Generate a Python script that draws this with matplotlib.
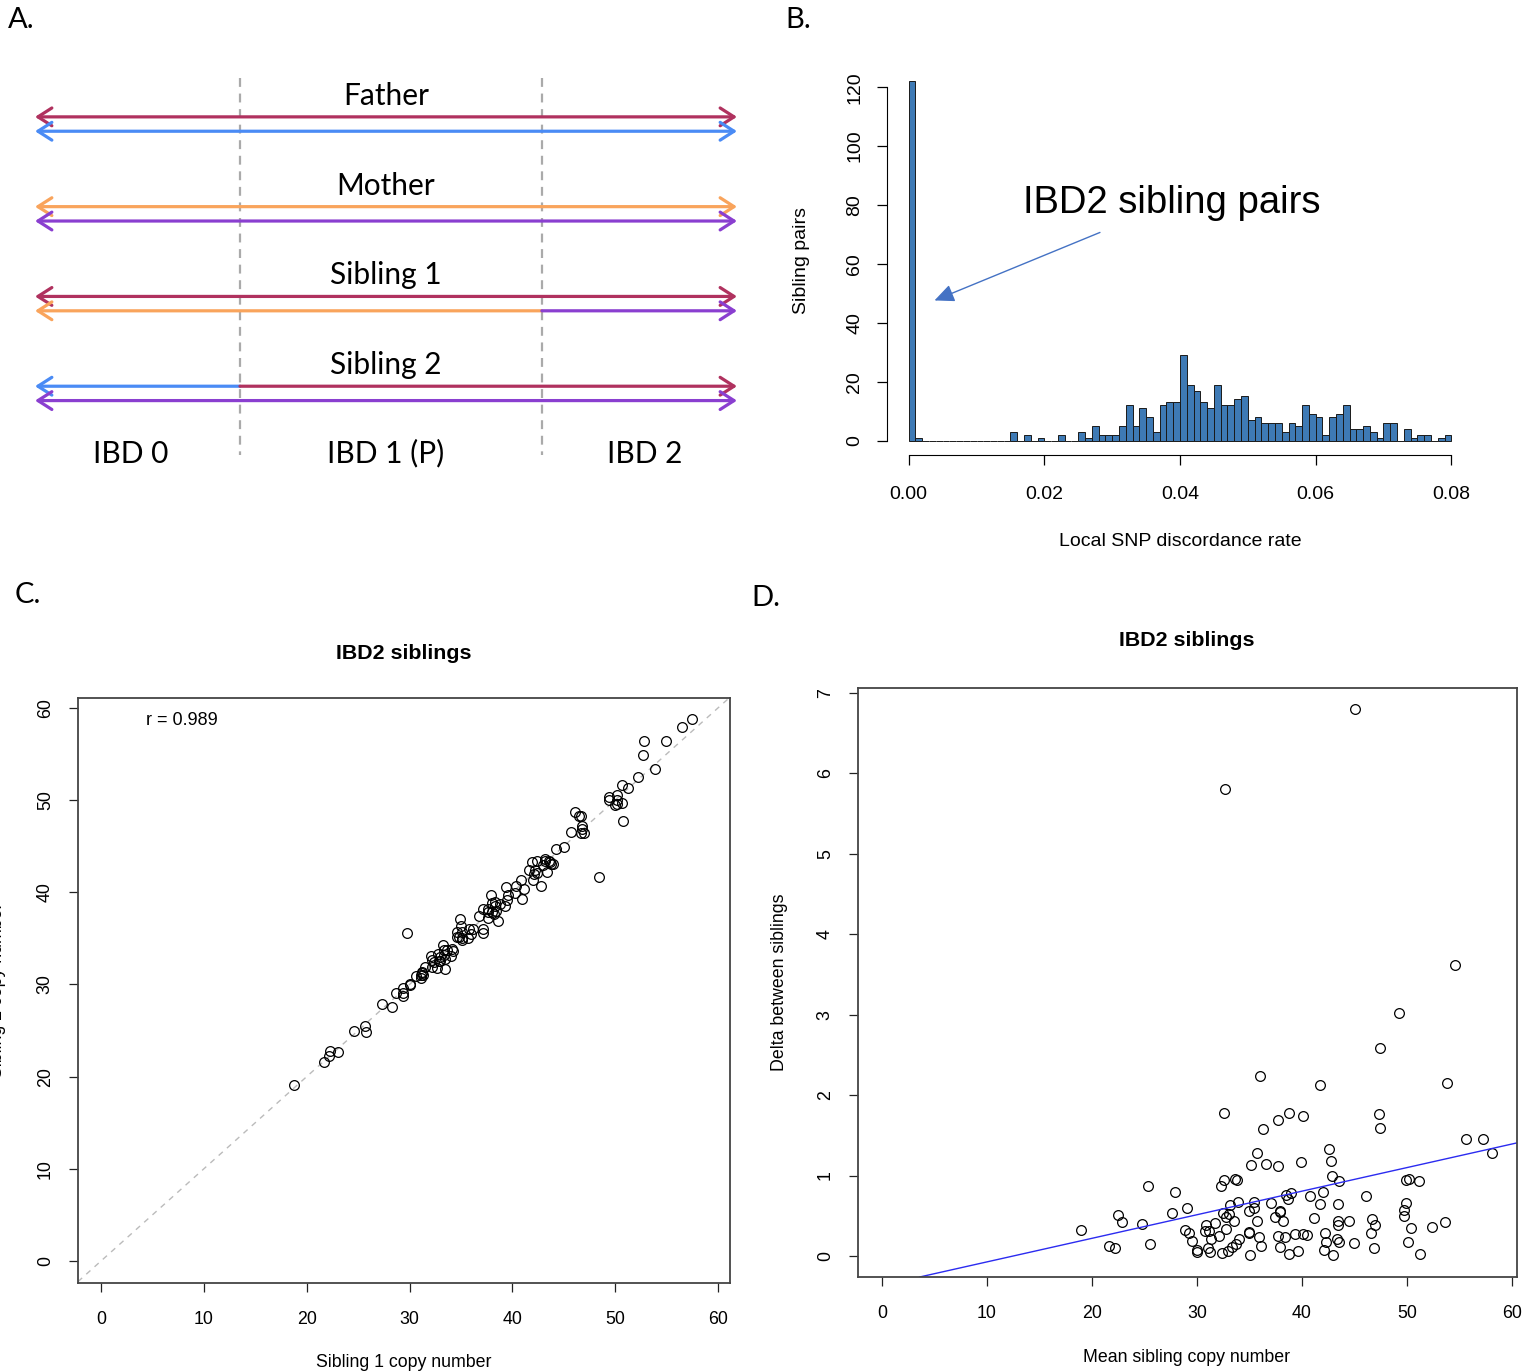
import numpy as np
import matplotlib.pyplot as plt

W, H = 1536, 1372
R_FONT = 'Liberation Sans'
A_FONT = 'Lato'

# ---- panel A: haplotype sharing diagram ----
bp1, bp2 = 0.292, 0.722          # recombination breakpoints (fraction of chromosome)
row_names = ['Father', 'Mother', 'Sibling 1', 'Sibling 2']
region_names = ['IBD 0', 'IBD 1 (P)', 'IBD 2']
region_label_x = [0.137, 0.50, 0.868]
RED, BLUE, ORANGE, PURPLE = '#B0325F', '#4A8BF5', '#F9A45C', '#8A3FD0'
# two haplotypes per person, each a list of (colour, start, end)
haplotypes = [
    [[(RED, 0, 1)], [(BLUE, 0, 1)]],
    [[(ORANGE, 0, 1)], [(PURPLE, 0, 1)]],
    [[(RED, 0, 1)], [(ORANGE, 0, bp2), (PURPLE, bp2, 1)]],
    [[(BLUE, 0, bp1), (RED, bp1, 1)], [(PURPLE, 0, 1)]],
]

# ---- panel B: histogram of local SNP discordance, bins of 0.001 ----
bin_width = 0.001
pair_counts = [122, 1, 0, 0, 0, 0, 0, 0, 0, 0, 0, 0, 0, 0, 0, 3, 0, 2, 0, 1,
               0, 0, 2, 0, 0, 3, 1, 5, 2, 2, 2, 5, 12, 5, 11, 8, 3, 12, 13, 13,
               29, 19, 17, 13, 11, 19, 12, 12, 14, 15, 7, 8, 6, 6, 6, 3, 6, 5, 12, 9,
               8, 2, 8, 9, 12, 4, 4, 5, 3, 1, 6, 6, 0, 4, 1, 2, 2, 0, 1, 2]

# ---- panels C/D: IBD2 sibling copy numbers ----
# mean copy number of the pair, absolute difference, and which sibling is higher (+1: sibling 2)
mean_cn = [45.05, 32.67, 54.57, 49.24, 47.40, 36.03, 41.71, 53.80, 32.57, 37.75,
           38.79, 40.10, 36.32, 47.37, 47.46, 55.65, 57.20, 58.13, 42.60, 35.68,
           35.17, 36.57, 37.68, 39.94, 42.76, 42.89, 43.50, 49.87, 50.19, 51.14,
           32.60, 33.60, 33.78, 32.25, 25.30, 27.94, 18.92, 22.50, 22.83, 24.76,
           21.62, 22.22, 25.56, 27.62, 29.05, 28.89, 29.20, 29.49, 29.97, 30.03,
           30.89, 30.76, 31.17, 31.30, 31.08, 31.20, 31.71, 32.06, 32.38, 32.73,
           32.44, 32.76, 33.01, 33.10, 33.55, 33.94, 33.00, 33.30, 33.68, 34.00,
           34.98, 35.08, 34.92, 35.40, 35.40, 35.74, 35.94, 36.13, 37.08, 37.43,
           37.90, 38.16, 37.75, 37.94, 38.41, 38.79, 38.44, 38.92, 38.63, 39.33,
           39.65, 40.10, 40.50, 40.73, 41.11, 41.68, 42.03, 42.22, 42.29, 42.06,
           42.95, 43.40, 43.43, 43.46, 43.30, 43.50, 44.44, 44.98, 46.12, 46.70,
           46.98, 46.57, 46.83, 49.87, 49.71, 49.75, 50.35, 50.10, 51.27, 52.38,
           53.62, 37.95, 35.00]
delta_cn = [6.80, 5.81, 3.62, 3.02, 2.59, 2.24, 2.12, 2.15, 1.78, 1.69,
            1.78, 1.74, 1.58, 1.77, 1.59, 1.46, 1.45, 1.28, 1.33, 1.28,
            1.13, 1.14, 1.12, 1.17, 1.18, 1.00, 0.93, 0.95, 0.96, 0.93,
            0.95, 0.96, 0.95, 0.87, 0.87, 0.79, 0.32, 0.51, 0.42, 0.40,
            0.13, 0.10, 0.15, 0.54, 0.60, 0.32, 0.28, 0.19, 0.08, 0.05,
            0.39, 0.31, 0.31, 0.21, 0.10, 0.05, 0.41, 0.25, 0.04, 0.33,
            0.53, 0.48, 0.52, 0.63, 0.44, 0.67, 0.06, 0.11, 0.15, 0.21,
            0.29, 0.01, 0.56, 0.67, 0.60, 0.44, 0.24, 0.13, 0.66, 0.48,
            0.56, 0.44, 0.25, 0.11, 0.24, 0.03, 0.76, 0.78, 0.71, 0.27,
            0.06, 0.27, 0.26, 0.74, 0.47, 0.65, 0.80, 0.28, 0.17, 0.08,
            0.01, 0.65, 0.44, 0.39, 0.21, 0.18, 0.44, 0.16, 0.75, 0.46,
            0.38, 0.29, 0.10, 0.66, 0.57, 0.50, 0.35, 0.17, 0.03, 0.36,
            0.42, 0.55, 0.30]
higher_sib = [-1, 1, 1, -1, 1, 1, -1, 1, -1, -1,
              1, -1, -1, 1, 1, 1, 1, 1, 1, 1,
              1, -1, 1, 1, -1, 1, -1, 1, -1, 1,
              1, -1, 1, -1, -1, -1, 1, 1, -1, 1,
              -1, 1, -1, 1, -1, 1, -1, 1, -1, 1,
              -1, 1, -1, 1, -1, 1, 1, -1, 1, -1,
              1, -1, 1, -1, 1, -1, 1, -1, 1, -1,
              1, -1, 1, -1, 1, -1, 1, -1, 1, -1,
              1, -1, 1, -1, 1, -1, 1, -1, 1, -1,
              1, -1, 1, -1, 1, -1, 1, -1, 1, -1,
              1, -1, 1, -1, 1, -1, 1, -1, 1, -1,
              1, -1, 1, -1, 1, -1, 1, -1, 1, 1,
              -1, -1, -1]
corr_text = 'r = 0.989'
fit_intercept, fit_slope = -0.366, 0.0293

mean_arr = np.array(mean_cn)
half = np.array(delta_cn) * np.array(higher_sib) / 2
sib1 = mean_arr - half
sib2 = mean_arr + half


def box(l, t, r, b):
    return [l / W, 1 - b / H, (r - l) / W, (b - t) / H]


fig = plt.figure(figsize=(W / 100, H / 100), dpi=100)

# panel letters
for lab, x, y in [('A.', 8, 20), ('B.', 785, 20), ('C.', 15, 595), ('D.', 751, 598)]:
    fig.text(x / W, 1 - y / H, lab, fontsize=21, family=A_FONT, va='center', ha='left')

# ---------- A ----------
axA = fig.add_axes(box(35, 63, 737, 476))
axA.set_xlim(0, 1)
axA.set_ylim(4.0, -0.6)
axA.axis('off')
hap_gap = 0.16
for b in (bp1, bp2):
    axA.plot([b, b], [-0.43, 3.77], color='#AAAAAA', lw=1.6, ls=(0, (4, 3)))
for i, pair in enumerate(haplotypes):
    axA.text(0.5, i - 0.235, row_names[i], ha='center', va='center',
             fontsize=21.5, family=A_FONT)
    for j, segs in enumerate(pair):
        y = i + j * hap_gap
        for k, (c, s, e) in enumerate(segs):
            style = ('<' if k == 0 else '') + '-' + ('>' if k == len(segs) - 1 else '')
            if style == '-':
                axA.plot([s, e], [y, y], color=c, lw=2.3)
            else:
                axA.annotate('', xy=(e, y), xytext=(s, y), annotation_clip=False,
                             arrowprops=dict(arrowstyle=style + ',head_length=0.5,head_width=0.32',
                                             color=c, lw=2.3, shrinkA=0, shrinkB=0,
                                             mutation_scale=20))
for k, name in enumerate(region_names):
    axA.text(region_label_x[k], 3.75, name, ha='center', va='center',
             fontsize=21.5, family=A_FONT)

# ---------- B ----------
axB = fig.add_axes(box(887, 67, 1473, 455))
left_edges = np.arange(len(pair_counts)) * bin_width
axB.bar(left_edges, pair_counts, width=bin_width, align='edge',
        color='#3E7AB5', edgecolor='#1a1a1a', linewidth=0.7)
axB.set_xlim(-0.0032, 0.0832)
axB.set_ylim(-4.88, 126.88)
for s in ('top', 'right'):
    axB.spines[s].set_visible(False)
axB.spines['left'].set_bounds(0, 120)
axB.spines['bottom'].set_bounds(0, 0.08)
axB.set_xticks([0, 0.02, 0.04, 0.06, 0.08])
axB.set_xticklabels(['0.00', '0.02', '0.04', '0.06', '0.08'])
axB.set_yticks(range(0, 121, 20))
axB.tick_params(axis='both', direction='out', length=7, width=0.9, labelsize=14)
axB.tick_params(axis='x', pad=15.5)
axB.tick_params(axis='y', pad=10)
for t in axB.get_yticklabels():
    t.set_rotation(90)
    t.set_va('center')
for t in axB.get_xticklabels() + axB.get_yticklabels():
    t.set_family(R_FONT)
fig.text(1180 / W, 1 - 542 / H, 'Local SNP discordance rate', ha='center', va='center',
         fontsize=14, family=R_FONT)
fig.text(802 / W, 1 - 261 / H, 'Sibling pairs', ha='center', va='center', rotation=90,
         fontsize=14, family=R_FONT)
axB.annotate('', xy=(0.0038, 47.6), xytext=(0.0282, 70.7),
             arrowprops=dict(arrowstyle='-|>,head_length=1.0,head_width=0.45',
                             color='#4472C4', lw=1.0, mutation_scale=12,
                             shrinkA=0, shrinkB=0))
axB.text(0.0388, 80.6, 'IBD2 sibling pairs', ha='center', va='center',
         fontsize=27.5, family=R_FONT)


def r_box_axes(ax, xlim, ylim, xticks, yticks):
    ax.set_xlim(*xlim)
    ax.set_ylim(*ylim)
    ax.set_xticks(xticks)
    ax.set_yticks(yticks)
    for s in ax.spines.values():
        s.set_color('#444444')
        s.set_linewidth(1.3)
    ax.tick_params(axis='both', direction='out', length=6.5, width=0.9,
                   labelsize=12.8, color='#222222')
    ax.tick_params(axis='x', pad=13.8)
    ax.tick_params(axis='y', pad=10.9)
    for t in ax.get_yticklabels():
        t.set_rotation(90)
        t.set_va('center')
    for t in ax.get_xticklabels() + ax.get_yticklabels():
        t.set_family(R_FONT)


# ---------- C ----------
axC = fig.add_axes(box(78, 698, 730, 1283))
r_box_axes(axC, (-2.24, 61.17), (-2.39, 61.08), range(0, 61, 10), range(0, 61, 10))
axC.axline((0, 0), slope=1, color='#BBBBBB', lw=1.0, ls=(0, (4, 4)))
axC.plot(sib1, sib2, ls='none', marker='o', ms=7, mfc='none', mec='black', mew=0.9)
axC.text(4.4, 58.6, corr_text, ha='left', va='center', fontsize=13, family=R_FONT)
fig.text(404 / W, 1 - 653 / H, 'IBD2 siblings', ha='center', va='center',
         fontsize=15.4, fontweight='bold', family=R_FONT)
fig.text(404 / W, 1 - 1354 / H, 'Sibling 1 copy number', ha='center', va='top',
         fontsize=12.8, family=R_FONT)
fig.text(-2 / W, 1 - 990 / H, 'Sibling 2 copy number', ha='center', va='center',
         rotation=90, fontsize=12.8, family=R_FONT)

# ---------- D ----------
axD = fig.add_axes(box(858, 688, 1517, 1277))
r_box_axes(axD, (-2.29, 60.48), (-0.261, 7.06), range(0, 61, 10), range(0, 8))
axD.plot(mean_arr, delta_cn, ls='none', marker='o', ms=7, mfc='none', mec='black', mew=0.9)
axD.axline((0, fit_intercept), slope=fit_slope, color='#2B2BF0', lw=1.0)
fig.text(1187 / W, 1 - 641 / H, 'IBD2 siblings', ha='center', va='center',
         fontsize=15.4, fontweight='bold', family=R_FONT)
fig.text(1187 / W, 1 - 1357 / H, 'Mean sibling copy number', ha='center', va='center',
         fontsize=12.8, family=R_FONT)
fig.text(779 / W, 1 - 982 / H, 'Delta between siblings', ha='center', va='center',
         rotation=90, fontsize=12.8, family=R_FONT)

fig.savefig('out.png', dpi=100)
